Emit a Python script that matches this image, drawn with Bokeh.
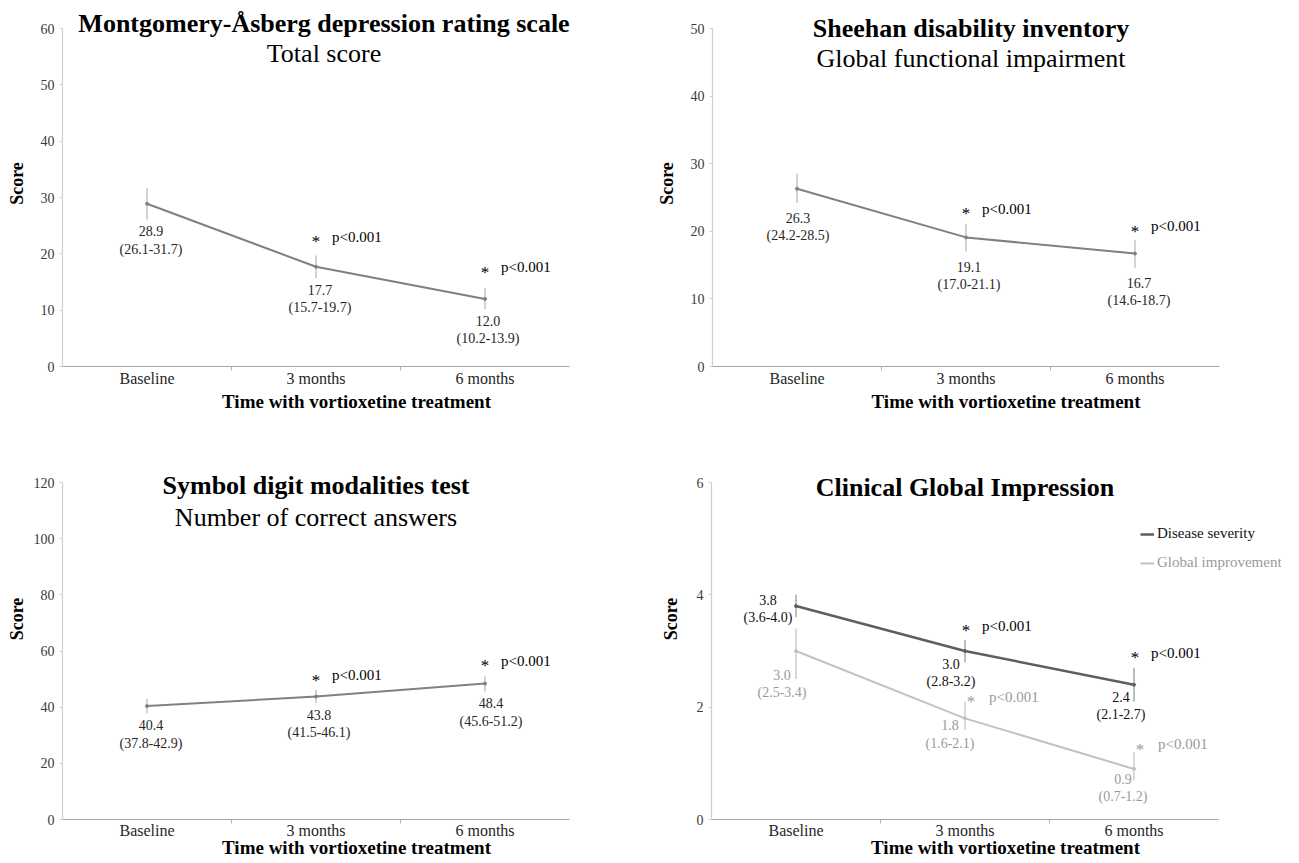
from bokeh.plotting import figure
from bokeh.layouts import column, row
from bokeh.models import FixedTicker, Label, Legend, LegendItem, Range1d
from bokeh.embed import file_html
from bokeh.resources import INLINE
from bokeh.core.properties import value

# ---------------- data ----------------
categories = ["Baseline", "3 months", "6 months"]
x_axis_title = "Time with vortioxetine treatment"
y_axis_title = "Score"

madrs_mean = [28.9, 17.7, 12.0]
madrs_lo = [26.1, 15.7, 10.2]
madrs_hi = [31.7, 19.7, 13.9]

sdi_mean = [26.3, 19.1, 16.7]
sdi_lo = [24.2, 17.0, 14.6]
sdi_hi = [28.5, 21.1, 18.7]

sdmt_mean = [40.4, 43.8, 48.4]
sdmt_lo = [37.8, 41.5, 45.6]
sdmt_hi = [42.9, 46.1, 51.2]

cgi_sev_mean = [3.8, 3.0, 2.4]
cgi_sev_lo = [3.6, 2.8, 2.1]
cgi_sev_hi = [4.0, 3.2, 2.7]

cgi_imp_mean = [3.0, 1.8, 0.9]
cgi_imp_lo = [2.5, 1.6, 0.7]
cgi_imp_hi = [3.4, 2.1, 1.2]

p_values = ["", "p<0.001", "p<0.001"]

# ---------------- style / geometry ----------------
FONT = "Liberation Serif"
DATA_W = 507            # pixel width of the 0..3 category span
LINE = "#808080"
BAR = "#c4c4c4"
TXT = "#262626"

xs = [i + 0.5 for i in range(len(categories))]


def make_fig(width, left, height, data_top, data_h, bottom, ymax, ystep,
             score_standoff, xtick_standoff, xtitle_standoff):
    frame_w = width - left
    frame_h = height - bottom
    x_end = 3 * frame_w / DATA_W
    y_end = ymax * frame_h / data_h
    p = figure(width=width, height=height, x_range=Range1d(0, x_end), y_range=Range1d(0, y_end),
               output_backend="svg", toolbar_location=None, tools="",
               min_border_left=left, min_border_right=0,
               min_border_top=0, min_border_bottom=bottom)
    p.outline_line_color = None
    p.xgrid.visible = False
    p.ygrid.visible = False
    p.background_fill_color = "white"
    p.border_fill_color = "white"

    xa = p.xaxis[0]
    xa.bounds = (0, 3)
    xa.ticker = FixedTicker(ticks=xs, minor_ticks=[1.0, 2.0])
    xa.major_label_overrides = {x: c for x, c in zip(xs, categories)}
    xa.axis_line_color = "#a8a8a8"
    xa.axis_line_width = 1.2
    xa.major_tick_out = 0
    xa.major_tick_in = 0
    xa.minor_tick_out = 4
    xa.minor_tick_in = 0
    xa.minor_tick_line_color = "#b0b0b0"
    xa.major_label_text_font = FONT
    xa.major_label_text_font_size = "16px"
    xa.major_label_text_color = TXT
    xa.major_label_standoff = xtick_standoff
    xa.axis_label = x_axis_title
    xa.axis_label_text_font = FONT
    xa.axis_label_text_font_style = "bold"
    xa.axis_label_text_font_size = "19px"
    xa.axis_label_text_color = "black"
    xa.axis_label_standoff = xtitle_standoff

    ya = p.yaxis[0]
    ya.bounds = (0, ymax)
    ya.ticker = FixedTicker(ticks=list(range(0, ymax + 1, ystep)))
    ya.axis_line_color = "#cfcfcf"
    ya.axis_line_width = 1.2
    ya.major_tick_out = 3
    ya.major_tick_in = 0
    ya.major_tick_line_color = "#cfcfcf"
    ya.minor_tick_out = 0
    ya.minor_tick_in = 0
    ya.major_label_text_font = FONT
    ya.major_label_text_font_size = "14px"
    ya.major_label_text_color = "#3a3a3a"
    ya.major_label_standoff = 5
    ya.axis_label = y_axis_title
    ya.axis_label_text_font = FONT
    ya.axis_label_text_font_style = "bold"
    ya.axis_label_text_font_size = "18px"
    ya.axis_label_text_color = "black"
    ya.axis_label_standoff = score_standoff

    g = {"ux": 3 / DATA_W, "uy": ymax / data_h, "ymax": ymax}
    return p, g


def add_titles(p, g, title, subtitle, title_dx, title_dy, sub_dy):
    ux, uy, ymax = g["ux"], g["uy"], g["ymax"]
    p.add_layout(Label(x=1.5 + title_dx * ux, y=ymax - title_dy * uy, text=title,
                       text_font=FONT, text_font_style="bold", text_font_size="26px",
                       text_align="center", text_baseline="middle", text_color="black"))
    if subtitle:
        p.add_layout(Label(x=1.5 + title_dx * ux, y=ymax - sub_dy * uy, text=subtitle,
                           text_font=FONT, text_font_size="26px",
                           text_align="center", text_baseline="middle", text_color="black"))


def add_series(p, g, mean, lo, hi, line_color, line_width, bar_color, text_color, p_color,
               label_dx, label_dy, star_dx, star_up, p_gap):
    ux, uy = g["ux"], g["uy"]
    p.segment(x0=xs, y0=lo, x1=xs, y1=hi, line_color=bar_color, line_width=1.5)
    r = p.line(xs, mean, line_color=line_color, line_width=line_width)
    p.scatter(xs, mean, size=3, color=line_color)
    p.text(x=[x + dx * ux for x, dx in zip(xs, label_dx)],
           y=[m - dy * uy for m, dy in zip(mean, label_dy)],
           text=[f"{m:.1f}\n({a:.1f}-{b:.1f})" for m, a, b in zip(mean, lo, hi)],
           text_font=value(FONT), text_font_size="14px", text_color=text_color,
           text_align="center", text_baseline="top", text_line_height=1.15)
    sx = [x + star_dx * ux for x, pv in zip(xs, p_values) if pv]
    sy = [h + su * uy for h, su, pv in zip(hi, star_up, p_values) if pv]
    pt = [pv for pv in p_values if pv]
    p.text(x=sx, y=[y - 3 * uy for y in sy], text=["*"] * len(sx),
           text_font=value(FONT), text_font_size="17px", text_color=p_color,
           text_align="center", text_baseline="middle")
    p.text(x=[x + p_gap * ux for x in sx], y=[y + 2 * uy for y in sy], text=pt,
           text_font=value(FONT), text_font_size="15px", text_color=p_color,
           text_align="left", text_baseline="middle")
    return r


def lo_dy(g, mean, lo, px):
    # label top placed px pixels under the lower CI bound
    return [(m - l) / g["uy"] + px for m, l in zip(mean, lo)]


TOP_H = 418
BOT_H = 445

# Panel 1: MADRS
p1, g1 = make_fig(650, 62, TOP_H, 28, 338, TOP_H - 366, 60, 10, 11, -1, 1)
add_series(p1, g1, madrs_mean, madrs_lo, madrs_hi, LINE, 2, BAR, TXT, "black",
           [4, 4, 3], lo_dy(g1, madrs_mean, madrs_lo, 5), 0, [17, 17, 19], 16)
add_titles(p1, g1, "Montgomery-Åsberg depression rating scale", "Total score", 8, -5, 25)

# Panel 2: SDI
p2, g2 = make_fig(649, 62, TOP_H, 28, 338, TOP_H - 366, 50, 10, 11, -1, 1)
add_series(p2, g2, sdi_mean, sdi_lo, sdi_hi, LINE, 2, BAR, TXT, "black",
           [1, 3, 4], lo_dy(g2, sdi_mean, sdi_lo, 8), 0, [13, 13, 12], 16)
add_titles(p2, g2, "Sheehan disability inventory", "Global functional impairment", 5, 0, 30)

# Panel 3: SDMT
p3, g3 = make_fig(650, 62, BOT_H, 482 - TOP_H, 337, BOT_H - (819 - TOP_H), 120, 20, 4, -2, -5)
add_series(p3, g3, sdmt_mean, sdmt_lo, sdmt_hi, LINE, 2, BAR, TXT, "black",
           [4, 3, 6], lo_dy(g3, sdmt_mean, sdmt_lo, 5), 0, [13, 13, 13], 16)
add_titles(p3, g3, "Symbol digit modalities test", "Number of correct answers", 0, 3, 35)

# Panel 4: CGI
p4, g4 = make_fig(649, 61, BOT_H, 482 - TOP_H, 337, BOT_H - (819 - TOP_H), 6, 2, 13, -2, -5)
r_sev = add_series(p4, g4, cgi_sev_mean, cgi_sev_lo, cgi_sev_hi, "#5e5e5e", 2.5, "#a8a8a8",
                   "#111111", "black", [-28, -14, -13], [-13, 6, 5], 1, [12, 12, 13], 16)
r_imp = add_series(p4, g4, cgi_imp_mean, cgi_imp_lo, cgi_imp_hi, "#c2c2c2", 2, "#cccccc",
                   "#9a9a9a", "#9a9a9a", [-14, -15, -11], [17, 0, 3], 6, [3, 3, 6], 18)
add_titles(p4, g4, "Clinical Global Impression", None, 0, 5, 0)

for item, loc, col in [(LegendItem(label="Disease severity", renderers=[r_sev]), (429, 277), "#111111"),
                       (LegendItem(label="Global improvement", renderers=[r_imp]), (429, 248), "#9a9a9a")]:
    lg = Legend(items=[item], location=loc, padding=0, margin=0, spacing=0,
                glyph_width=14, glyph_height=14, label_height=16, label_standoff=3,
                label_text_font=FONT, label_text_font_size="15px", label_text_color=col,
                border_line_color=None, background_fill_alpha=0)
    p4.add_layout(lg)

layout = column(row(p1, p2), row(p3, p4))
open("out.html", "w").write(file_html(layout, INLINE))
